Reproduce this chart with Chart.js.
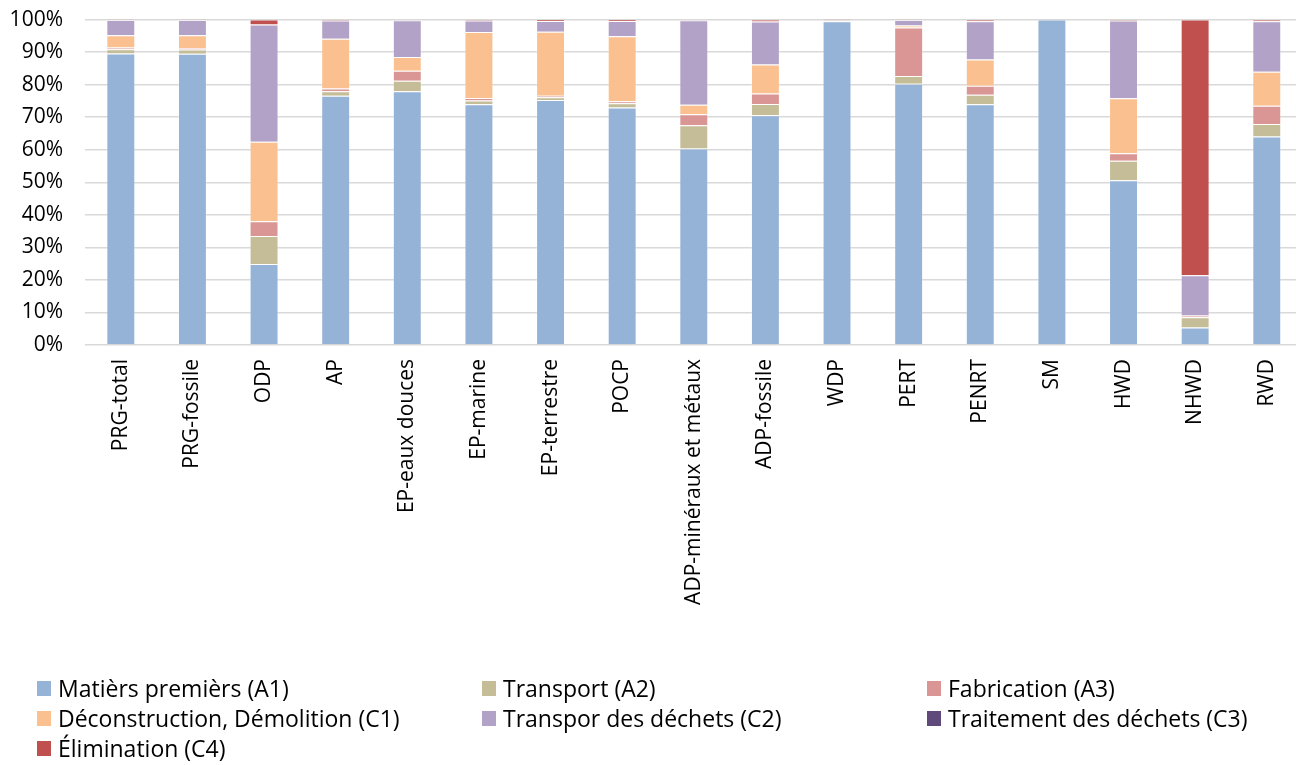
<!DOCTYPE html>
<html lang="fr">
<head>
<meta charset="utf-8">
<title>Contribution des étapes du cycle de vie</title>
<script src="https://cdn.jsdelivr.net/npm/chart.js@4.4.1/dist/chart.umd.min.js"></script>
<style>
  html, body { margin: 0; padding: 0; background: #fff; overflow: hidden; }
  #wrap { position: relative; width: 1296px; height: 765px; overflow: hidden; }
  #chart { position: absolute; left: 0; top: -15px; }
  #legend { position: absolute; left: 37px; top: 673px; width: 1259px;
            display: grid; grid-template-columns: 445px 445px 369px; grid-auto-rows: 30px;
            font-family: "Open Sans", sans-serif; font-size: 23px; color: #000; }
  .item { display: flex; align-items: center; white-space: nowrap; }
  .sw { width: 14px; height: 15px; margin-right: 7px; flex: none; }
</style>
</head>
<body>
<div id="wrap">
  <canvas id="chart" width="1306" height="780"></canvas>
  <div id="legend"></div>
</div>
<script>
// Indicators on the x axis
const categories = ["PRG-total", "PRG-fossile", "ODP", "AP", "EP-eaux douces", "EP-marine",
  "EP-terrestre", "POCP", "ADP-minéraux et métaux", "ADP-fossile", "WDP", "PERT", "PENRT",
  "SM", "HWD", "NHWD", "RWD"];

// Share of each life-cycle stage, in percent
const matieresPremieres = [89.6, 89.5, 24.9, 76.6, 78.0, 74.0, 75.3, 73.0, 60.4, 70.6, 99.5, 80.3, 74.0, 100, 50.6, 5.4, 64.1];
const transportA2       = [1.3, 1.3, 8.6, 1.4, 3.2, 1.1, 0.8, 1.3, 7.1, 3.5, 0.1, 2.4, 2.9, 0, 6.0, 3.1, 3.8];
const fabrication       = [0.5, 0.5, 4.5, 0.8, 3.1, 0.8, 0.5, 0.6, 3.4, 3.2, 0.1, 14.9, 2.8, 0, 2.3, 0.5, 5.6];
const deconstruction    = [3.8, 3.9, 24.5, 15.3, 4.2, 20.3, 19.7, 20.0, 2.9, 8.9, 0.1, 0.6, 8.0, 0, 16.9, 0.1, 10.5];
const transportDechets  = [4.7, 4.7, 36.0, 5.6, 11.3, 3.5, 3.3, 4.7, 26.0, 13.2, 0.1, 1.7, 11.8, 0, 23.9, 12.3, 15.5];
const traitement        = [0, 0, 0, 0, 0, 0, 0, 0, 0, 0, 0, 0, 0, 0, 0, 0, 0];
const elimination       = [0.1, 0.1, 1.5, 0.3, 0.2, 0.3, 0.4, 0.4, 0.2, 0.6, 0.1, 0.1, 0.5, 0, 0.3, 78.6, 0.5];

// Y axis tick values
const yTicks = [0, 10, 20, 30, 40, 50, 60, 70, 80, 90, 100];

// Stage names and colours
const seriesNames = ["Matièrs premièrs (A1)", "Transport (A2)", "Fabrication (A3)",
  "Déconstruction, Démolition (C1)", "Transpor des déchets (C2)",
  "Traitement des déchets (C3)", "Élimination (C4)"];
const seriesColors = ["#95B3D7", "#C4BD97", "#D99694", "#FAC090", "#B3A2C7", "#604A7B", "#C0504D"];
const seriesData = [matieresPremieres, transportA2, fabrication, deconstruction,
  transportDechets, traitement, elimination];

const FONT = "'Open Sans', sans-serif";

const datasets = seriesData.map((d, i) => ({
  label: seriesNames[i],
  data: d,
  backgroundColor: seriesColors[i],
  borderColor: "rgba(255,255,255,0.25)",
  borderWidth: 1,
  barPercentage: 0.404,
  categoryPercentage: 1.0
}));

const chart = new Chart(document.getElementById("chart"), {
  type: "bar",
  data: { labels: categories, datasets },
  options: {
    responsive: false,
    animation: false,
    layout: { padding: { top: 6, right: 1, left: 0, bottom: 0 } },
    plugins: { legend: { display: false }, tooltip: { enabled: false } },
    scales: {
      x: {
        stacked: true,
        grid: { display: false, drawTicks: false },
        border: { display: false },
        ticks: {
          color: "#000", font: { family: FONT, size: 21 },
          minRotation: 90, maxRotation: 90, autoSkip: false, padding: 14
        },
        afterFit: (s) => { s.height = 420; }
      },
      y: {
        stacked: true,
        min: 0, max: 100,
        afterBuildTicks: (s) => { s.ticks = yTicks.map(v => ({ value: v })); },
        grid: { color: "#d9d9d9", lineWidth: 1.5, drawTicks: false },
        border: { display: false },
        ticks: {
          color: "#000", font: { family: FONT, size: 21 }, padding: 22,
          callback: (v) => v + "%"
        },
        afterFit: (s) => { s.width = 85; }
      }
    }
  }
});

// Legend in three columns, built from the chart's datasets
const legendEl = document.getElementById("legend");
chart.data.datasets.forEach((ds) => {
  const item = document.createElement("div");
  item.className = "item";
  const sw = document.createElement("span");
  sw.className = "sw";
  sw.style.background = ds.backgroundColor;
  const txt = document.createElement("span");
  txt.textContent = ds.label;
  item.appendChild(sw);
  item.appendChild(txt);
  legendEl.appendChild(item);
});
</script>
</body>
</html>
